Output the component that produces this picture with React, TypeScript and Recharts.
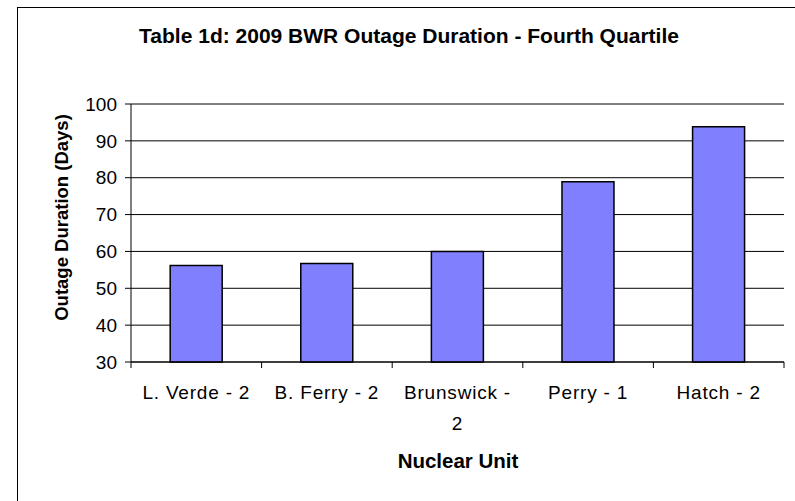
import { Bar, BarChart, CartesianGrid, Label, ReferenceLine, XAxis, YAxis } from "recharts";

const units = ["L. Verde - 2", "B. Ferry - 2", "Brunswick - 2", "Perry - 1", "Hatch - 2"];
const outageDays = [56.2, 56.7, 60.0, 78.9, 93.8];
const dayTicks = [30, 40, 50, 60, 70, 80, 90, 100];

const data = units.map((unit, i) => ({ unit, days: outageDays[i] }));

const FONT = "'Liberation Sans', Arial, sans-serif";
const CHART_W = 795;
const CHART_H = 501;
const MARGIN = { top: 104, right: 11, bottom: 0, left: 0 };
const Y_AXIS_W = 131;
const X_AXIS_H = 139;
const TICK_SIZE = 6;
const TICK_GAP = 17;
const LABEL_SIZE = 19;
const BAND = (CHART_W - MARGIN.left - MARGIN.right - Y_AXIS_W) / units.length;

// greedy word wrap, roughly what Excel does with long category names
function wrapLabel(label: string, maxChars: number): string[] {
  const lines: string[] = [];
  let cur = "";
  for (const w of label.split(" ")) {
    const next = cur ? cur + " " + w : w;
    if (next.length > maxChars && cur) {
      lines.push(cur);
      cur = w;
    } else {
      cur = next;
    }
  }
  if (cur) lines.push(cur);
  return lines;
}

// category label in the middle, tick marks on the band edges
function UnitTick(props: any) {
  const { x, y, payload, index } = props;
  const axisY = y - TICK_SIZE - TICK_GAP;
  const edges = index === units.length - 1 ? [x - BAND / 2, x + BAND / 2] : [x - BAND / 2];
  const lines = wrapLabel(String(payload.value), 12);
  return (
    <g>
      {edges.map((ex, i) => (
        <line key={i} x1={ex} x2={ex} y1={axisY} y2={axisY + TICK_SIZE} stroke="#000" />
      ))}
      <text
        x={x}
        y={y + LABEL_SIZE * 0.72}
        textAnchor="middle"
        fill="#000"
        fontSize={LABEL_SIZE}
        fontFamily={FONT}
        letterSpacing={0.8}
      >
        {lines.map((l, i) => (
          <tspan key={i} x={x} dy={i === 0 ? 0 : 31}>
            {l}
          </tspan>
        ))}
      </text>
    </g>
  );
}

export default function App() {
  return (
    <div
      style={{
        position: "absolute",
        left: 0,
        top: 0,
        width: CHART_W,
        height: CHART_H,
        overflow: "hidden",
        background: "#fff",
        fontFamily: FONT,
      }}
    >
      <div
        style={{
          position: "absolute",
          left: 17,
          top: 7,
          width: 820,
          height: 540,
          border: "1px solid #000",
        }}
      />
      <div
        style={{
          position: "absolute",
          left: 0,
          top: 25,
          width: 818,
          textAlign: "center",
          fontSize: 21,
          lineHeight: "21px",
          fontWeight: "bold",
          color: "#000",
        }}
      >
        Table 1d: 2009 BWR Outage Duration - Fourth Quartile
      </div>
      <div style={{ position: "absolute", left: 0, top: 0 }}>
        <BarChart width={CHART_W} height={CHART_H} data={data} margin={MARGIN} barCategoryGap="30%">
          <CartesianGrid vertical={false} stroke="#000" strokeWidth={1} />
          <XAxis
            dataKey="unit"
            height={X_AXIS_H}
            interval={0}
            axisLine={{ stroke: "#000" }}
            tickLine={false}
            tickSize={TICK_SIZE}
            tickMargin={TICK_GAP}
            tick={<UnitTick />}
          >
            <Label
              content={() => (
                <text
                  x={458}
                  y={468}
                  textAnchor="middle"
                  fontSize={20.5}
                  fontWeight="bold"
                  fontFamily={FONT}
                  fill="#000"
                >
                  Nuclear Unit
                </text>
              )}
            />
          </XAxis>
          <YAxis
            width={Y_AXIS_W}
            domain={[30, 100]}
            ticks={dayTicks}
            interval={0}
            axisLine={{ stroke: "#000" }}
            tickLine={{ stroke: "#000" }}
            tickSize={TICK_SIZE}
            tickMargin={8}
            tick={{ fill: "#000", fontSize: LABEL_SIZE, fontFamily: FONT }}
          >
            <Label
              content={() => (
                <text
                  x={68}
                  y={217.5}
                  transform="rotate(-90, 68, 217.5)"
                  textAnchor="middle"
                  fontSize={18.5}
                  fontWeight="bold"
                  fontFamily={FONT}
                  fill="#000"
                >
                  Outage Duration (Days)
                </text>
              )}
            />
          </YAxis>
          <YAxis
            yAxisId="frame"
            orientation="right"
            width={0}
            domain={[30, 100]}
            tick={false}
            tickLine={false}
            axisLine={{ stroke: "#808080" }}
          />
          <ReferenceLine y={100} stroke="#808080" />
          <Bar dataKey="days" fill="#8080FF" stroke="#000" strokeWidth={1.5} isAnimationActive={false} />
        </BarChart>
      </div>
    </div>
  );
}
